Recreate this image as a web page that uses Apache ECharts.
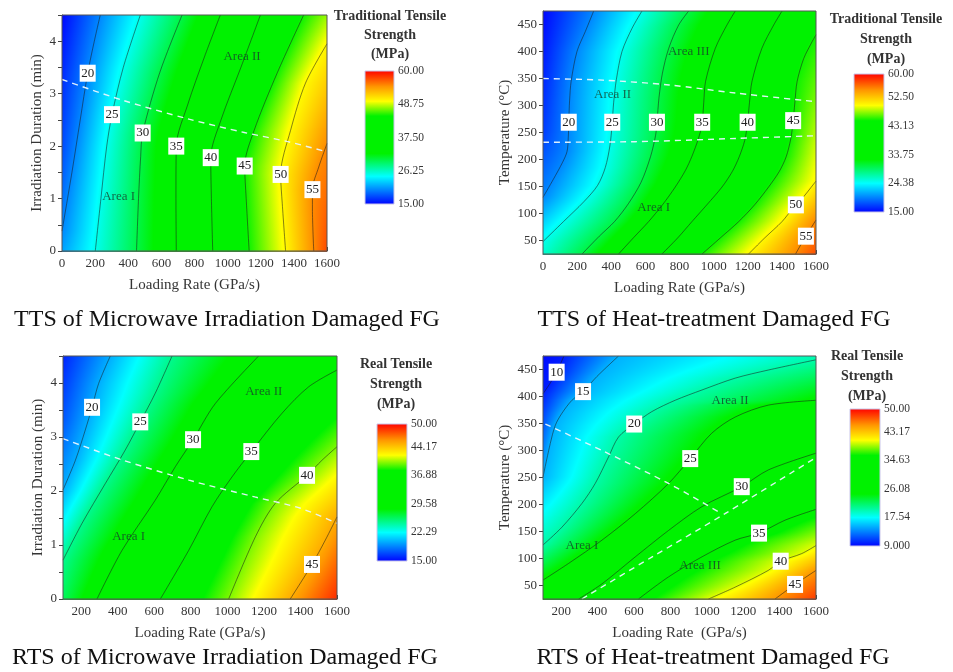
<!DOCTYPE html>
<html>
<head>
<meta charset="utf-8">
<script src="https://cdn.jsdelivr.net/npm/echarts@6/dist/echarts.min.js"></script>
<style>
  html, body { margin: 0; padding: 0; background: #fff; }
  #chart { width: 953px; height: 672px; }
</style>
</head>
<body>
<div id="chart"></div>
<script>
// ---------------------------------------------------------------
// Shared axis values
// ---------------------------------------------------------------
const rateTicksFrom0   = [0,100,200,300,400,500,600,700,800,900,1000,1100,1200,1300,1400,1500,1600];
const rateLabelsFrom0  = [0,200,400,600,800,1000,1200,1400,1600];
const rateTicksFrom200 = [200,300,400,500,600,700,800,900,1000,1100,1200,1300,1400,1500,1600];
const rateLabelsFrom200 = [200,400,600,800,1000,1200,1400,1600];
const durationTicks  = [0,0.5,1,1.5,2,2.5,3,3.5,4,4.5];
const durationLabels = [0,1,2,3,4];
const tempLabels     = [50,100,150,200,250,300,350,400,450];

// ---------------------------------------------------------------
// TTS, microwave irradiation  (x: loading rate GPa/s, y: duration min)
// Each contour is a list of [rate, duration] points, ordered upward.
// ---------------------------------------------------------------
const mwTtsLevels = [20,25,30,35,40,45,50,55];
const mwTtsContours = [
  [[0,0.38],[60,1.5],[110,2.5],[155,3.39],[195,4.0],[231,4.5]],
  [[201,0],[235,1.0],[270,2.0],[302,2.6],[370,3.5],[473,4.5]],
  [[450,0],[462,1.0],[475,1.8],[487,2.25],[590,3.4],[725,4.5]],
  [[690,0],[688,1.0],[690,2.0],[760,2.8],[860,3.7],[956,4.5]],
  [[910,0],[902,1.0],[898,1.78],[960,2.5],[1080,3.5],[1198,4.5]],
  [[1130,0],[1112,1.0],[1103,1.62],[1160,2.3],[1300,3.4],[1459,4.5]],
  [[1350,0],[1330,0.9],[1320,1.46],[1380,2.3],[1470,3.2],[1600,3.95]],
  [[1520,0],[1512,0.8],[1512,1.17],[1550,1.6],[1600,2.05]]
];
const mwTtsLabelY   = [3.39,2.6,2.25,2.0,1.78,1.62,1.46,1.17];
const mwTtsLeftEdge  = [[0,21],[0.38,20],[2,17.7],[3.4,16.5],[4.5,15.2]];
const mwTtsRightEdge = [[0,57.4],[2.05,55],[3.95,50],[4.5,47.6]];
const mwTtsBoundary  = [[0,3.27],[360,2.88],[760,2.52],[1100,2.26],[1370,2.08],[1600,1.89]];
const mwTtsAreas     = [['Area I',342,1.04],['Area II',1087,3.7]];
const mwTtsScale     = [15,60];
const mwTtsScaleLabels = [15,26.25,37.5,48.75,60];

// ---------------------------------------------------------------
// TTS, heat treatment  (x: loading rate GPa/s, y: temperature °C)
// ---------------------------------------------------------------
const htTtsLevels = [20,25,30,35,40,45,50,55];
const htTtsContours = [
  [[0,130],[60,163],[115,195],[141,215],[148,240],[151,270],[156,310],[165,345],[199,400],[248,437],[297,475]],
  [[0,48],[120,85],[240,122],[320,152],[365,185],[392,225],[405,265],[414,305],[430,348],[463,400],[522,443],[580,475]],
  [[229,25],[330,58],[419,85],[500,118],[575,158],[630,205],[660,245],[668,270],[680,315],[700,360],[737,406],[795,449],[854,475]],
  [[443,25],[530,55],[619,85],[700,116],[775,149],[835,180],[873,206],[910,238],[932,265],[942,305],[953,345],[1010,406],[1078,449],[1127,475]],
  [[697,25],[790,55],[873,85],[960,116],[1049,149],[1110,178],[1150,205],[1182,235],[1198,265],[1210,305],[1225,345],[1283,406],[1352,449],[1401,475]],
  [[932,25],[1040,55],[1147,85],[1240,116],[1322,149],[1385,178],[1425,205],[1452,238],[1465,268],[1476,305],[1489,344],[1528,387],[1577,418],[1600,431]],
  [[1205,25],[1300,55],[1401,85],[1470,112],[1530,132],[1570,148],[1600,160]],
  [[1480,25],[1535,55],[1600,88]]
];
const htTtsLabelY    = [269,269,269,269,269,272,116,58];
const htTtsLeftEdge  = [[25,25.8],[48,25],[130,20],[250,17.2],[475,15.2]];
const htTtsRightEdge = [[25,57.2],[88,55],[160,50],[300,47.3],[431,45],[475,44.3]];
const htTtsBoundaryHigh = [[0,350],[350,347],[740,338],[1130,323],[1600,307]];
const htTtsBoundaryLow  = [[0,232],[540,233],[1130,239],[1600,244]];
const htTtsAreas     = [['Area III',854,400],['Area II',408,321],['Area I',649,111]];
const htTtsScale     = [15,60];
const htTtsScaleLabels = [15,24.38,33.75,43.13,52.5,60];

// ---------------------------------------------------------------
// RTS, microwave irradiation
// ---------------------------------------------------------------
const mwRtsLevels = [20,25,30,35,40,45];
const mwRtsContours = [
  [[100,2.02],[168,2.57],[222,3.13],[259,3.55],[295,3.99],[359,4.5]],
  [[100,0.72],[204,1.40],[332,2.14],[441,2.76],[523,3.28],[605,3.81],[697,4.5]],
  [[286,0],[423,0.90],[605,1.83],[715,2.45],[812,2.95],[934,3.62],[1171,4.5]],
  [[633,0],[788,0.90],[916,1.71],[1025,2.26],[1131,2.73],[1299,3.44],[1445,3.93],[1600,4.24]],
  [[1007,0],[1153,1.15],[1262,1.77],[1436,2.29],[1518,2.57],[1600,2.82]],
  [[1344,0],[1463,0.64],[1536,1.09],[1600,1.52]]
];
const mwRtsLabelY    = [3.55,3.28,2.95,2.73,2.29,0.64];
const mwRtsLeftEdge  = [[0,26.2],[0.72,25],[2.02,20],[3.3,17.5],[4.5,16.0]];
const mwRtsRightEdge = [[0,48.8],[1.52,45],[2.82,40],[4.24,35],[4.5,34.3]];
const mwRtsBoundary  = [[100,2.97],[420,2.58],[790,2.2],[1150,1.89],[1400,1.68],[1600,1.4]];
const mwRtsAreas     = [['Area I',459,1.15],['Area II',1199,3.84]];
const mwRtsScale     = [15,50];
const mwRtsScaleLabels = [15,22.29,29.58,36.88,44.17,50];

// ---------------------------------------------------------------
// RTS, heat treatment
// ---------------------------------------------------------------
const htRtsLevels = [10,15,20,25,30,35,40,45];
const htRtsContours = [
  [[100,405],[140,425],[175,445],[215,475]],
  [[100,251],[140,313],[168,347],[204,369],[259,393],[320,409],[396,437],[515,475]],
  [[100,125],[204,158],[314,202],[387,239],[460,288],[515,325],[601,349],[698,372],[826,393],[973,412],[1156,434],[1338,449],[1600,468]],
  [[100,60],[241,91],[424,134],[607,183],[790,239],[909,285],[1027,332],[1156,362],[1338,384],[1600,393]],
  [[296,25],[424,53],[607,103],[790,152],[973,196],[1192,233],[1338,264],[1600,295]],
  [[625,25],[790,66],[973,103],[1156,134],[1287,147],[1430,171],[1600,191]],
  [[1009,25],[1156,47],[1338,78],[1406,95],[1521,109],[1600,124]],
  [[1375,25],[1485,52],[1600,78]]
];
const htRtsLabelY    = [445,409,349,285,233,147,95,52];
const htRtsLeftEdge  = [[25,26.5],[60,25],[125,20],[251,15],[405,10],[475,9.3]];
const htRtsRightEdge = [[25,48.1],[78,45],[124,40],[191,35],[295,30],[393,25],[468,20],[475,19.7]];
const htRtsBoundaryA = [[113,349],[424,300],[790,239],[1082,183]];
const htRtsBoundaryB = [[314,25],[700,103],[1100,183],[1600,287]];
const htRtsAreas     = [['Area I',314,124],['Area II',1128,393],['Area III',963,86]];
const htRtsScale     = [9,50];
const htRtsScaleLabels = [9,17.54,26.08,34.63,43.17,50];

// ---------------------------------------------------------------
// Rendering helpers
// ---------------------------------------------------------------
const SERIF = '"Liberation Serif","Times New Roman",Times,serif';
const TEXT = '#353535';

// rainbow colour map: blue -> cyan -> green -> yellow -> red
const KNOTS = [
  [0,    [0, 0, 255]],
  [0.21, [0, 255, 255]],
  [0.38, [0, 242, 0]],
  [0.66, [0, 242, 0]],
  [0.77, [255, 255, 0]],
  [0.88, [255, 150, 0]],
  [1,    [255, 0, 0]]
];
function colorAt(v, lo, hi) {
  let f = (v - lo) / (hi - lo);
  f = Math.max(0, Math.min(1, f));
  for (let i = 1; i < KNOTS.length; i++) {
    if (f <= KNOTS[i][0]) {
      const a = KNOTS[i - 1], b = KNOTS[i];
      const t = (f - a[0]) / ((b[0] - a[0]) || 1);
      const c = [0, 1, 2].map(k => Math.round(a[1][k] + (b[1][k] - a[1][k]) * t));
      return 'rgb(' + c.join(',') + ')';
    }
  }
  return 'rgb(255,0,0)';
}
// x where a contour (ordered upward) crosses the level y
function xAtY(pts, y) {
  if (y < pts[0][1] || y > pts[pts.length - 1][1]) return null;
  for (let i = 1; i < pts.length; i++) {
    const a = pts[i - 1], b = pts[i];
    if (y >= a[1] && y <= b[1]) {
      if (b[1] === a[1]) return a[0];
      return a[0] + (y - a[1]) / (b[1] - a[1]) * (b[0] - a[0]);
    }
  }
  return null;
}
function edgeAt(edge, y) {
  if (y <= edge[0][0]) return edge[0][1];
  for (let i = 1; i < edge.length; i++) {
    if (y <= edge[i][0]) {
      const a = edge[i - 1], b = edge[i];
      return a[1] + (y - a[0]) / (b[0] - a[0]) * (b[1] - a[1]);
    }
  }
  return edge[edge.length - 1][1];
}
// gradient stops for one horizontal strip of the strength field
function rowStops(p, yv) {
  const [x0, x1] = p.xr, [lo, hi] = p.scale;
  const pts = [[x0, edgeAt(p.left, yv)]];
  p.contours.forEach((c, k) => {
    const x = xAtY(c, yv);
    if (x !== null && x > x0 && x < x1) pts.push([x, p.levels[k]]);
  });
  pts.push([x1, edgeAt(p.right, yv)]);
  pts.sort((a, b) => a[0] - b[0]);
  const knotVals = KNOTS.map(k => lo + k[0] * (hi - lo));
  const stops = [];
  for (let j = 0; j < pts.length; j++) {
    const [xa, va] = pts[j];
    stops.push({ offset: (xa - x0) / (x1 - x0), color: colorAt(va, lo, hi) });
    if (j < pts.length - 1) {
      const [xb, vb] = pts[j + 1];
      if (vb === va) continue;
      knotVals.filter(k => (k - va) * (k - vb) < 0)
        .sort((m, n) => (va < vb ? m - n : n - m))
        .forEach(k => {
          const x = xa + (k - va) / (vb - va) * (xb - xa);
          stops.push({ offset: (x - x0) / (x1 - x0), color: colorAt(k, lo, hi) });
        });
    }
  }
  return stops;
}

const panels = [
  { levels: mwTtsLevels, contours: mwTtsContours, labelY: mwTtsLabelY, left: mwTtsLeftEdge, right: mwTtsRightEdge,
    bounds: [mwTtsBoundary], areas: mwTtsAreas, scale: mwTtsScale, scaleLabels: mwTtsScaleLabels,
    xr: [0, 1600], yr: [0, 4.5] },
  { levels: htTtsLevels, contours: htTtsContours, labelY: htTtsLabelY, left: htTtsLeftEdge, right: htTtsRightEdge,
    bounds: [htTtsBoundaryHigh, htTtsBoundaryLow], areas: htTtsAreas, scale: htTtsScale, scaleLabels: htTtsScaleLabels,
    xr: [0, 1600], yr: [25, 475] },
  { levels: mwRtsLevels, contours: mwRtsContours, labelY: mwRtsLabelY, left: mwRtsLeftEdge, right: mwRtsRightEdge,
    bounds: [mwRtsBoundary], areas: mwRtsAreas, scale: mwRtsScale, scaleLabels: mwRtsScaleLabels,
    xr: [100, 1600], yr: [0, 4.5] },
  { levels: htRtsLevels, contours: htRtsContours, labelY: htRtsLabelY, left: htRtsLeftEdge, right: htRtsRightEdge,
    bounds: [htRtsBoundaryA, htRtsBoundaryB], areas: htRtsAreas, scale: htRtsScale, scaleLabels: htRtsScaleLabels,
    xr: [100, 1600], yr: [25, 475] }
];

// plot rectangles and colour bar rectangles
const plotBoxes = [
  { left: 62,  top: 15,  width: 265, height: 236 },
  { left: 543, top: 11,  width: 273, height: 243 },
  { left: 63,  top: 356, width: 274, height: 243 },
  { left: 543, top: 356, width: 273, height: 243 }
];
const barBoxes = [
  { left: 365, top: 71,  width: 29, height: 133 },
  { left: 854, top: 74,  width: 30, height: 138 },
  { left: 377, top: 424, width: 30, height: 137 },
  { left: 850, top: 409, width: 30, height: 137 }
];

const grids = [], xAxes = new Array(8), yAxes = new Array(8), series = [];
const axisFont = { fontFamily: SERIF, fontSize: 13, color: TEXT };
const nameFont = { fontFamily: SERIF, fontSize: 15, color: TEXT };
const plain = v => String(v);

plotBoxes.forEach(b => {
  grids.push(Object.assign({ show: true, borderColor: '#555', borderWidth: 1, backgroundColor: 'transparent', z: 10 }, b));
});
barBoxes.forEach(b => grids.push(Object.assign({ show: false }, b)));

panels.forEach((p, i) => {
  const fullRate = p.xr[0] === 0;
  const isTemp = p.yr[0] === 25;
  xAxes[i] = {
    type: 'value', gridIndex: i, min: p.xr[0], max: p.xr[1],
    axisLine: { show: true, lineStyle: { color: '#555', width: 1 } },
    axisTick: { show: true, inside: true, length: 4, customValues: fullRate ? rateTicksFrom0 : rateTicksFrom200,
                lineStyle: { color: '#444' } },
    axisLabel: Object.assign({ customValues: fullRate ? rateLabelsFrom0 : rateLabelsFrom200, margin: 6, formatter: plain }, axisFont),
    splitLine: { show: false },
    name: i === 3 ? 'Loading Rate  (GPa/s)' : 'Loading Rate (GPa/s)',
    nameLocation: 'middle', nameGap: 27, nameTextStyle: nameFont
  };
  yAxes[i] = {
    type: 'value', gridIndex: i, min: p.yr[0], max: p.yr[1],
    axisLine: { show: true, lineStyle: { color: '#555', width: 1 } },
    axisTick: { show: true, inside: false, length: 4, customValues: isTemp ? tempLabels : durationTicks,
                lineStyle: { color: '#444' } },
    axisLabel: Object.assign({ customValues: isTemp ? tempLabels : durationLabels, margin: 6, formatter: plain }, axisFont),
    splitLine: { show: false },
    name: isTemp ? 'Temperature (°C)' : 'Irradiation Duration (min)',
    nameLocation: 'middle', nameGap: isTemp ? 30 : 17, nameTextStyle: nameFont
  };

  // strength field
  series.push({
    type: 'custom', xAxisIndex: i, yAxisIndex: i, silent: true, z: 1,
    data: [[p.xr[0], p.yr[0]]],
    renderItem: (params, api) => {
      const tl = api.coord([p.xr[0], p.yr[1]]);
      const br = api.coord([p.xr[1], p.yr[0]]);
      const w = br[0] - tl[0], h = br[1] - tl[1];
      const n = Math.ceil(h);
      const children = [];
      for (let r = 0; r < n; r++) {
        const yv = p.yr[1] - (r + 0.5) / n * (p.yr[1] - p.yr[0]);
        children.push({
          type: 'rect',
          shape: { x: tl[0], y: tl[1] + r * h / n, width: w, height: h / n + 0.6 },
          style: { fill: { type: 'linear', x: 0, y: 0, x2: 1, y2: 0, colorStops: rowStops(p, yv) } }
        });
      }
      return { type: 'group', children };
    }
  });

  // contour lines
  p.contours.forEach(c => {
    series.push({
      type: 'line', xAxisIndex: i, yAxisIndex: i, data: c, symbol: 'none', smooth: 0.3,
      silent: true, z: 3, clip: true,
      lineStyle: { color: 'rgba(25,25,25,0.7)', width: 0.75 }
    });
  });

  // area boundaries
  p.bounds.forEach(bd => {
    series.push({
      type: 'line', xAxisIndex: i, yAxisIndex: i, data: bd, symbol: 'none', smooth: 0.3,
      silent: true, z: 4,
      lineStyle: { color: 'rgba(232,246,255,0.95)', width: 1.4, type: [6, 5] }
    });
  });

  // contour level tags (white boxes), placed on their contour
  const tags = p.levels.map((lv, k) => [xAtY(p.contours[k], p.labelY[k]), p.labelY[k], lv]);
  series.push({
    type: 'scatter', xAxisIndex: i, yAxisIndex: i, data: tags, symbol: 'rect', symbolSize: [16, 17],
    itemStyle: { color: '#ffffff', opacity: 1 }, silent: true, z: 6,
    label: {
      show: true, position: 'inside', formatter: q => String(q.value[2]),
      color: '#222', fontFamily: SERIF, fontSize: 13
    }
  });

  // area names
  series.push({
    type: 'scatter', xAxisIndex: i, yAxisIndex: i,
    data: p.areas.map(a => [a[1], a[2], a[0]]), symbol: 'rect', symbolSize: 1,
    itemStyle: { color: 'rgba(0,0,0,0)' }, silent: true, z: 5,
    label: {
      show: true, position: 'inside', formatter: q => q.value[2],
      color: '#173f2a', fontFamily: SERIF, fontSize: 13
    }
  });

  // colour bar
  const g = i + 4;
  const [lo, hi] = p.scale;
  xAxes[g] = { type: 'value', gridIndex: g, min: 0, max: 1, show: false };
  yAxes[g] = {
    type: 'value', gridIndex: g, min: lo, max: hi, position: 'right',
    axisLine: { show: false }, axisTick: { show: false }, splitLine: { show: false },
    axisLabel: {
      customValues: p.scaleLabels, margin: 4, fontFamily: SERIF, fontSize: 11.5, color: TEXT,
      formatter: v => (v < 10 ? v.toFixed(3) : v.toFixed(2))
    }
  };
  series.push({
    type: 'custom', xAxisIndex: g, yAxisIndex: g, silent: true, z: 2,
    data: [[0, lo]],
    renderItem: (params, api) => {
      const a = api.coord([0, hi]), b = api.coord([1, lo]);
      const stops = KNOTS.map(k => ({ offset: 1 - k[0], color: colorAt(lo + k[0] * (hi - lo), lo, hi) }))
        .sort((m, n) => m.offset - n.offset);
      return {
        type: 'rect',
        shape: { x: a[0], y: a[1], width: b[0] - a[0], height: b[1] - a[1] },
        style: { fill: { type: 'linear', x: 0, y: 0, x2: 0, y2: 1, colorStops: stops },
                 stroke: '#c9c6ea', lineWidth: 1 }
      };
    }
  });
});

// headings and colour bar titles
const texts = [
  { x: 390, y: 35,  text: 'Traditional Tensile\nStrength\n(MPa)', bold: true, size: 14, lh: 19 },
  { x: 886, y: 39,  text: 'Traditional Tensile\nStrength\n(MPa)', bold: true, size: 14, lh: 20 },
  { x: 396, y: 384, text: 'Real Tensile\nStrength\n(MPa)', bold: true, size: 14, lh: 20 },
  { x: 867, y: 376, text: 'Real Tensile\nStrength\n(MPa)', bold: true, size: 14, lh: 20 },
  { x: 227, y: 320, text: 'TTS of Microwave Irradiation Damaged FG', size: 24 },
  { x: 714, y: 320, text: 'TTS of Heat-treatment Damaged FG', size: 24 },
  { x: 225, y: 658, text: 'RTS of Microwave Irradiation Damaged FG', size: 24 },
  { x: 713, y: 658, text: 'RTS of Heat-treatment Damaged FG', size: 24 }
];
const graphic = texts.map(t => ({
  type: 'text', x: t.x, y: t.y, silent: true,
  style: {
    text: t.text, fill: t.bold ? '#333' : '#111',
    font: (t.bold ? 'bold ' : '') + t.size + 'px ' + SERIF,
    align: 'center', verticalAlign: 'middle', lineHeight: t.lh || t.size
  }
}));

const chart = echarts.init(document.getElementById('chart'), null, { renderer: 'canvas' });
chart.setOption({
  animation: false,
  backgroundColor: '#fff',
  grid: grids,
  xAxis: xAxes,
  yAxis: yAxes,
  series: series,
  graphic: graphic
});
</script>
</body>
</html>
